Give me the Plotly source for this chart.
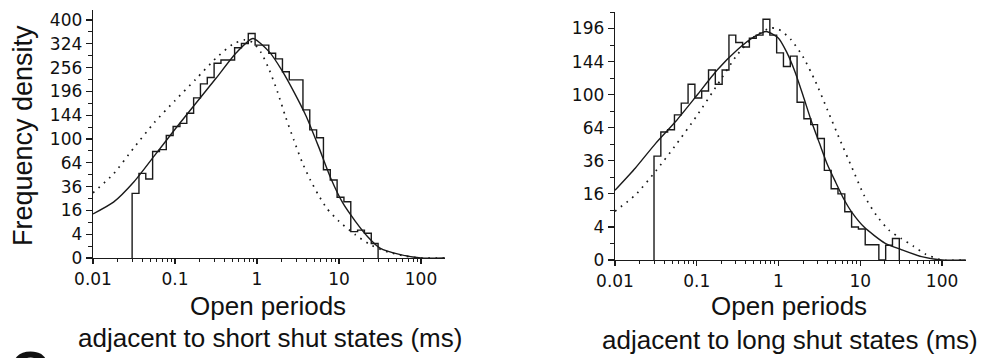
import numpy as np
import plotly.graph_objects as go

# ---------------- data ----------------
# log-spaced histogram bin edges (ms), 12 bins per decade from 0.03 to 30 ms
EDGES_MS = [0.03, 0.03635, 0.04403, 0.05335, 0.06463, 0.0783, 0.09487, 0.1149,
            0.1393, 0.1687, 0.2044, 0.2476, 0.3, 0.3635, 0.4403, 0.5335, 0.6463,
            0.783, 0.9487, 1.149, 1.393, 1.687, 2.044, 2.476, 3.0, 3.635, 4.403,
            5.335, 6.463, 7.83, 9.487, 11.49, 13.93, 16.87, 20.44, 24.76, 30.0]

# frequency density per bin, open periods adjacent to short shut states
SHORT_HIST = [29.5, 50.6, 44, 80, 83, 106, 122, 128, 148, 181, 214, 230,
              268, 277, 277, 312, 325, 356, 320, 320, 296, 280, 245, 224,
              224, 155, 116, 102, 55, 43, 26, 22.4, 4.9, 5.5, 4.3, 1.5]
# frequency density per bin, open periods adjacent to long shut states
LONG_HIST = [39.5, 60, 62, 77, 90, 113, 96, 104.5, 132, 113, 132, 185,
             173, 166, 180, 185, 212, 185, 157, 137, 152, 91, 73, 67,
             54, 29.4, 18.6, 16, 8.5, 4.0, 3.5, 0.85, 0.85, 0, 0.8, 1.7]

# fitted (solid) and predicted (dotted) curves: log10(time/ms) and density
SHORT_FIT_LOGT = [-2.0, -1.75, -1.5, -1.25, -1.0, -0.75, -0.5, -0.25, -0.05, 0.15,
                  0.3, 0.45, 0.6, 0.75, 0.9, 1.05, 1.2, 1.35, 1.5, 1.75, 2.0, 2.29]
SHORT_FIT_Y = [13.7, 22, 41, 74, 117, 168, 228, 298, 340, 300,
               250, 195, 142, 88, 45, 21, 9.5, 3.2, 0.7, 0.08, 0, 0]

SHORT_DOT_LOGT = [-2.0, -1.75, -1.5, -1.25, -1.0, -0.75, -0.5, -0.3, -0.15, -0.05,
                  0.05, 0.15, 0.25, 0.35, 0.45, 0.55, 0.65, 0.75, 0.85, 1.0,
                  1.2, 1.4, 1.6, 1.8, 2.0, 2.29]
SHORT_DOT_Y = [30, 50, 86, 130, 175, 225, 282, 322, 336, 328,
               298, 250, 195, 140, 98, 65, 43, 28, 17.5, 9.5,
               3.8, 1.1, 0.25, 0.03, 0, 0]

LONG_FIT_LOGT = [-2.0, -1.75, -1.5, -1.25, -1.0, -0.75, -0.5, -0.3, -0.15, 0.0,
                 0.1, 0.2, 0.3, 0.4, 0.5, 0.6, 0.7, 0.8, 0.9, 1.05,
                 1.3, 1.5, 1.75, 2.0, 2.29]
LONG_FIT_Y = [17.8, 31, 50, 71, 99, 132, 162, 182, 191, 180,
              158, 130, 99, 71, 50, 33, 22, 13.5, 8.2, 3.9,
              1.05, 0.4, 0.04, 0, 0]

LONG_DOT_LOGT = [-2.0, -1.75, -1.5, -1.25, -1.0, -0.75, -0.5, -0.3, -0.1, 0.0,
                 0.15, 0.3, 0.45, 0.6, 0.75, 0.9, 1.05, 1.2, 1.35, 1.5,
                 1.65, 1.8, 2.0, 2.29]
LONG_DOT_Y = [8.7, 15.5, 29, 49, 76, 112, 155, 182, 197, 195,
              178, 151, 117, 82, 53, 31, 15, 7.2, 3.25, 1.7,
              0.7, 0.12, 0, 0]

X_TICK_VALS = [0.01, 0.1, 1, 10, 100]
X_TICK_TEXT = ["0.01", "0.1", "1", "10", "100"]
Y_TICKS_SHORT = [0, 4, 16, 36, 64, 100, 144, 196, 256, 324, 400]
Y_TICKS_LONG = [0, 4, 16, 36, 64, 100, 144, 196]

# ---------------- helpers ----------------
INK = "#1a1a1a"
W, H = 983, 358


def step_xy(edges, vals):
    xs, ys = [edges[0]], [0.0]
    for i, v in enumerate(vals):
        xs += [edges[i], edges[i + 1]]
        ys += [v, v]
    xs.append(edges[-1])
    ys.append(0.0)
    return xs, np.sqrt(np.array(ys, dtype=float))


def curve_xy(logt, vals):
    return np.power(10.0, np.array(logt)), np.sqrt(np.array(vals, dtype=float))


fig = go.Figure()

panels = [
    ("x", "y", SHORT_HIST, SHORT_FIT_LOGT, SHORT_FIT_Y, SHORT_DOT_LOGT, SHORT_DOT_Y),
    ("x2", "y2", LONG_HIST, LONG_FIT_LOGT, LONG_FIT_Y, LONG_DOT_LOGT, LONG_DOT_Y),
]
for xa, ya, hist, flt, fy, dlt, dy in panels:
    hx, hy = step_xy(EDGES_MS, hist)
    fig.add_trace(go.Scatter(x=hx, y=hy, mode="lines", xaxis=xa, yaxis=ya,
                             line=dict(color=INK, width=1.4), showlegend=False,
                             hoverinfo="skip"))
    cx, cy = curve_xy(dlt, dy)
    fig.add_trace(go.Scatter(x=cx, y=cy, mode="lines", xaxis=xa, yaxis=ya,
                             line=dict(color=INK, width=1.7, dash="1.7px,5.5px",
                                       shape="spline", smoothing=0.6),
                             showlegend=False, hoverinfo="skip"))
    cx, cy = curve_xy(flt, fy)
    fig.add_trace(go.Scatter(x=cx, y=cy, mode="lines", xaxis=xa, yaxis=ya,
                             line=dict(color=INK, width=1.4, shape="spline",
                                       smoothing=0.6),
                             showlegend=False, hoverinfo="skip"))

minor_x = [k * 10.0 ** d for d in range(-2, 3) for k in range(2, 10)]
tickfont = dict(family="DejaVu Sans", size=17, color="#111")

xcommon = dict(type="log", range=[-2, 2.293], showline=True, linecolor=INK,
               linewidth=1.3, ticks="outside", ticklen=5, tickwidth=1.2,
               tickcolor=INK, showgrid=False, zeroline=False, automargin=False,
               tickvals=X_TICK_VALS, ticktext=X_TICK_TEXT, tickfont=tickfont,
               minor=dict(tickvals=minor_x, ticks="outside", ticklen=3,
                          tickwidth=1, tickcolor=INK, showgrid=False))


def ycommon(labels, top):
    sq = [float(np.sqrt(v)) for v in labels]
    minor = [s + 1 for s in sq if s + 1 <= top]
    return dict(range=[0, top], showline=True, linecolor=INK, linewidth=1.3,
                ticks="outside", ticklen=6, tickwidth=1.2, tickcolor=INK,
                showgrid=False, zeroline=False, automargin=False, tickvals=sq,
                ticktext=[str(v) for v in labels], tickfont=tickfont,
                minor=dict(tickvals=minor, ticks="outside", ticklen=4,
                           tickwidth=1, tickcolor=INK, showgrid=False))


fig.update_layout(
    width=W, height=H, autosize=False,
    margin=dict(l=0, r=0, t=0, b=0, pad=0, autoexpand=False),
    paper_bgcolor="white", plot_bgcolor="white",
    xaxis=dict(domain=[93 / W, 445 / W], anchor="y", **xcommon),
    yaxis=dict(domain=[(H - 258) / H, (H - 10) / H], anchor="x",
               **ycommon(Y_TICKS_SHORT, 20.84)),
    xaxis2=dict(domain=[615 / W, 966 / W], anchor="y2", **xcommon),
    yaxis2=dict(domain=[(H - 260) / H, (H - 12) / H], anchor="x2",
                **ycommon(Y_TICKS_LONG, 15.0)),
)

title_font = dict(family="Liberation Sans", size=26, color="#111")


def ann(text, xpix, ypix_center, size=26, angle=0, bold=False):
    f = dict(title_font)
    f["size"] = size
    if bold:
        text = "<b>" + text + "</b>"
    fig.add_annotation(text=text, x=xpix / W, y=(H - ypix_center) / H,
                       xref="paper", yref="paper", showarrow=False,
                       xanchor="center", yanchor="middle", textangle=angle,
                       font=f)


ann("Frequency density", 23, 136, size=27, angle=-90)
ann("Open periods", 268, 306)
ann("adjacent to short shut states (ms)", 270, 338)
ann("Open periods", 789, 306)
ann("adjacent to long shut states (ms)", 790, 340)
ann("C", 29, 370, size=54, bold=True)

fig.write_html(
    "out.html",
    config={"responsive": False, "displayModeBar": False, "staticPlot": True},
    post_script="document.body.style.margin='0';document.body.style.overflow='hidden';",
)
